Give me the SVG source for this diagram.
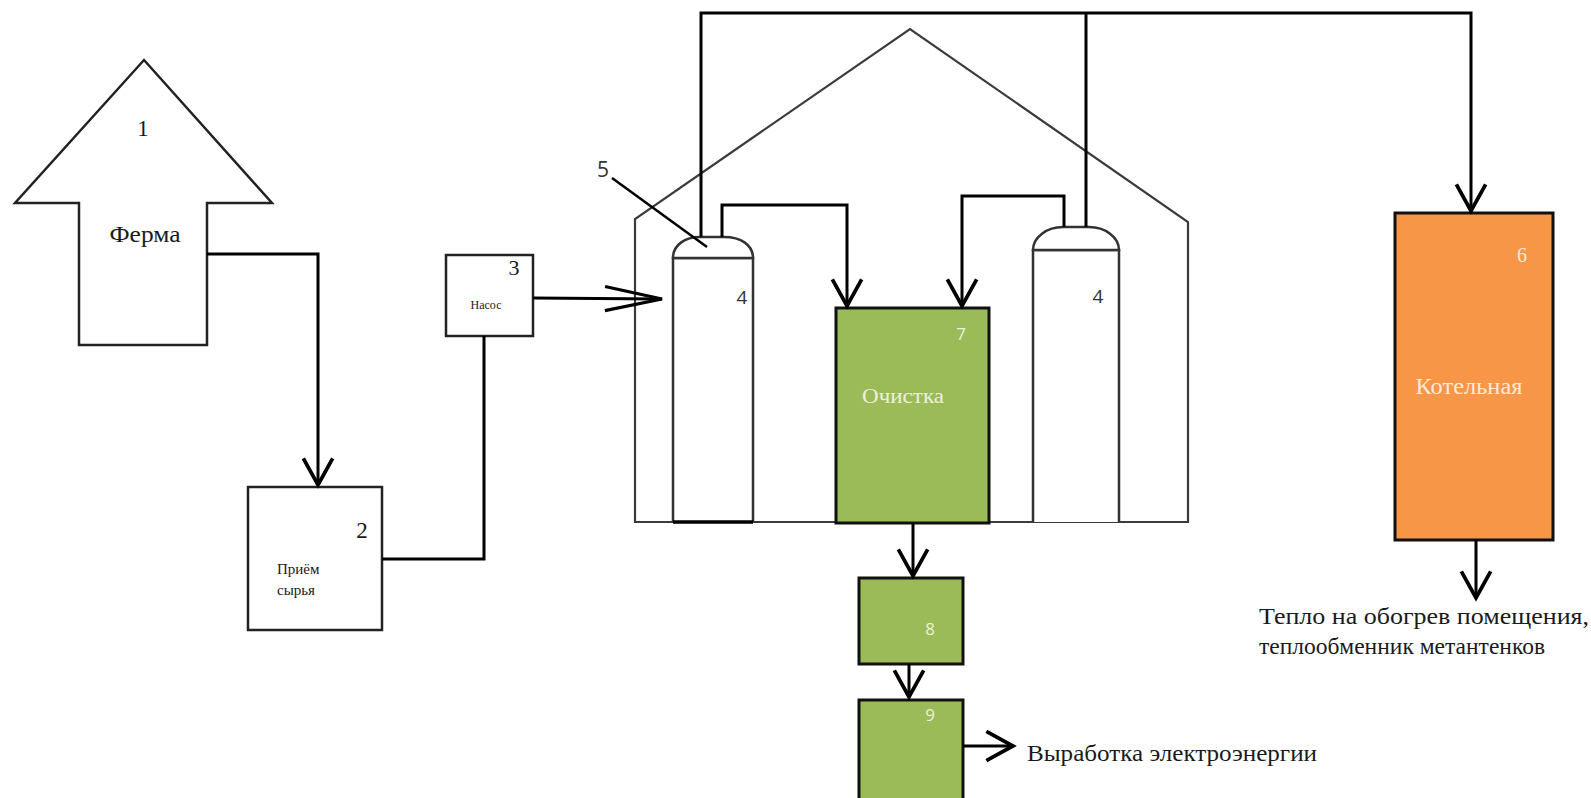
<svg xmlns="http://www.w3.org/2000/svg" width="1591" height="798" viewBox="0 0 1591 798">
<style>
.serif{font-family:"Liberation Serif","Times New Roman",serif;fill:#1a1a1a}
.sans{font-family:"Open Sans","Liberation Sans",sans-serif;fill:#333}
.conn{fill:none;stroke:#000;stroke-width:3}
.shape{fill:#fff;stroke:#222;stroke-width:2.5}
.bld{fill:none;stroke:#3a3a3a;stroke-width:2.2}
.tank{fill:#fff;stroke:#333;stroke-width:2.5}
.green{fill:#9BBB59;stroke:#111;stroke-width:3}
.orange{fill:#F79646;stroke:#111;stroke-width:3}
.lightg{fill:#EBF1DE}
.lighto{fill:#FDE9D9}
</style>
<defs>
<marker id="ah" markerUnits="userSpaceOnUse" markerWidth="40" markerHeight="40" viewBox="-25 -15 30 30" refX="0" refY="0" orient="auto" overflow="visible">
<path d="M-20,-11 L0,0 L-20,11" fill="none" stroke="#000" stroke-width="2.8"/>
</marker>
<marker id="ahl" markerUnits="userSpaceOnUse" markerWidth="80" markerHeight="40" viewBox="-65 -20 70 40" refX="0" refY="0" orient="auto" overflow="visible">
<path d="M-57,-12 L0,0 L-57,12" fill="none" stroke="#000" stroke-width="3.2"/>
</marker>
</defs>
<rect width="1591" height="798" fill="#fff"/>

<g id="building">
<path class="bld" d="M635,522 L635,219 L910,29 L1188,222 L1188,522 Z"/>
</g>

<g id="node1">
<polygon class="shape" points="144,60 272,203 207,203 207,345 79,345 79,203 15,203"/>
<text class="serif" x="143" y="136" font-size="23" text-anchor="middle">1</text>
<text class="serif" x="145" y="242" font-size="24" text-anchor="middle" textLength="71" lengthAdjust="spacingAndGlyphs">Ферма</text>
</g>

<g id="node2">
<rect class="shape" x="248" y="487" width="134" height="143" stroke-width="2"/>
<text class="serif" x="362" y="538" font-size="23" text-anchor="middle">2</text>
<text class="serif" x="277" y="574" font-size="15">Приём</text>
<text class="serif" x="277" y="595" font-size="15">сырья</text>
</g>

<g id="node3">
<rect class="shape" x="446" y="255" width="87" height="81" stroke-width="2"/>
<text class="serif" x="514" y="275" font-size="22" text-anchor="middle">3</text>
<text class="serif" x="486" y="309" font-size="12" text-anchor="middle">Насос</text>
</g>

<g id="node4a">
<path class="tank" d="M673,522 V258 H753 V522"/>
<path class="tank" d="M673,258 C673,245 685,237 700,237 H724 C741,237 753,245 753,258 Z"/>
<line x1="673" y1="522" x2="753" y2="522" stroke="#000" stroke-width="3.5"/>
<text class="sans" x="742" y="304" font-size="19" text-anchor="middle">4</text>
</g>

<g id="node4b">
<path class="tank" d="M1033,522 V250 H1119 V522"/>
<path class="tank" d="M1033,250 C1033,237 1047,227 1063,227 H1089 C1105,227 1119,237 1119,250 Z"/>
<text class="sans" x="1098" y="303" font-size="19" text-anchor="middle">4</text>
</g>

<g id="node5">
<line x1="612" y1="178" x2="707" y2="247" stroke="#000" stroke-width="2.5"/>
<text class="sans" x="603" y="177" font-size="21" text-anchor="middle" fill="#222">5</text>
</g>

<g id="node7">
<rect class="green" x="836" y="308" width="153" height="215"/>
<text class="sans lightg" x="961" y="340" font-size="17" text-anchor="middle">7</text>
<text class="serif lightg" x="903" y="403" font-size="22" text-anchor="middle" textLength="82" lengthAdjust="spacingAndGlyphs">Очистка</text>
</g>

<g id="node8">
<rect class="green" x="859" y="578" width="104" height="86"/>
<text class="sans lightg" x="930" y="635" font-size="17" text-anchor="middle">8</text>
</g>

<g id="node9">
<rect class="green" x="859" y="700" width="104" height="110"/>
<text class="sans lightg" x="930" y="721" font-size="17" text-anchor="middle">9</text>
</g>

<g id="node6">
<rect class="orange" x="1395" y="213" width="158" height="327"/>
<text class="serif lighto" x="1522" y="262" font-size="20" text-anchor="middle">6</text>
<text class="serif lighto" x="1469" y="394" font-size="23" text-anchor="middle" textLength="107" lengthAdjust="spacingAndGlyphs">Котельная</text>
</g>

<g id="label-heat">
<text class="serif" x="1259" y="624" font-size="24" textLength="330" lengthAdjust="spacingAndGlyphs">Тепло на обогрев помещения,</text>
<text class="serif" x="1259" y="654" font-size="24" textLength="286" lengthAdjust="spacingAndGlyphs">теплообменник метантенков</text>
</g>

<g id="label-power">
<text class="serif" x="1027" y="761" font-size="24" textLength="290" lengthAdjust="spacingAndGlyphs">Выработка электроэнергии</text>
</g>

<g id="connectors">
<path class="conn" d="M207,254 H318 V485" marker-end="url(#ah)"/>
<path class="conn" d="M382,559 H484 V336"/>
<path class="conn" d="M533,298 L662,299" marker-end="url(#ahl)"/>
<path class="conn" d="M701,237 V13 H1471 V211" marker-end="url(#ah)"/>
<path class="conn" d="M1086,227 V13"/>
<path class="conn" d="M722,237 V205 H847 V306" marker-end="url(#ah)"/>
<path class="conn" d="M1064,227 V196 H962 V306" marker-end="url(#ah)"/>
<path class="conn" d="M913,523 V576" marker-end="url(#ah)"/>
<path class="conn" d="M909,664 V697" marker-end="url(#ah)"/>
<path class="conn" d="M963,746 H1013" marker-end="url(#ah)"/>
<path class="conn" d="M1476,540 V598" marker-end="url(#ah)"/>
</g>
</svg>
